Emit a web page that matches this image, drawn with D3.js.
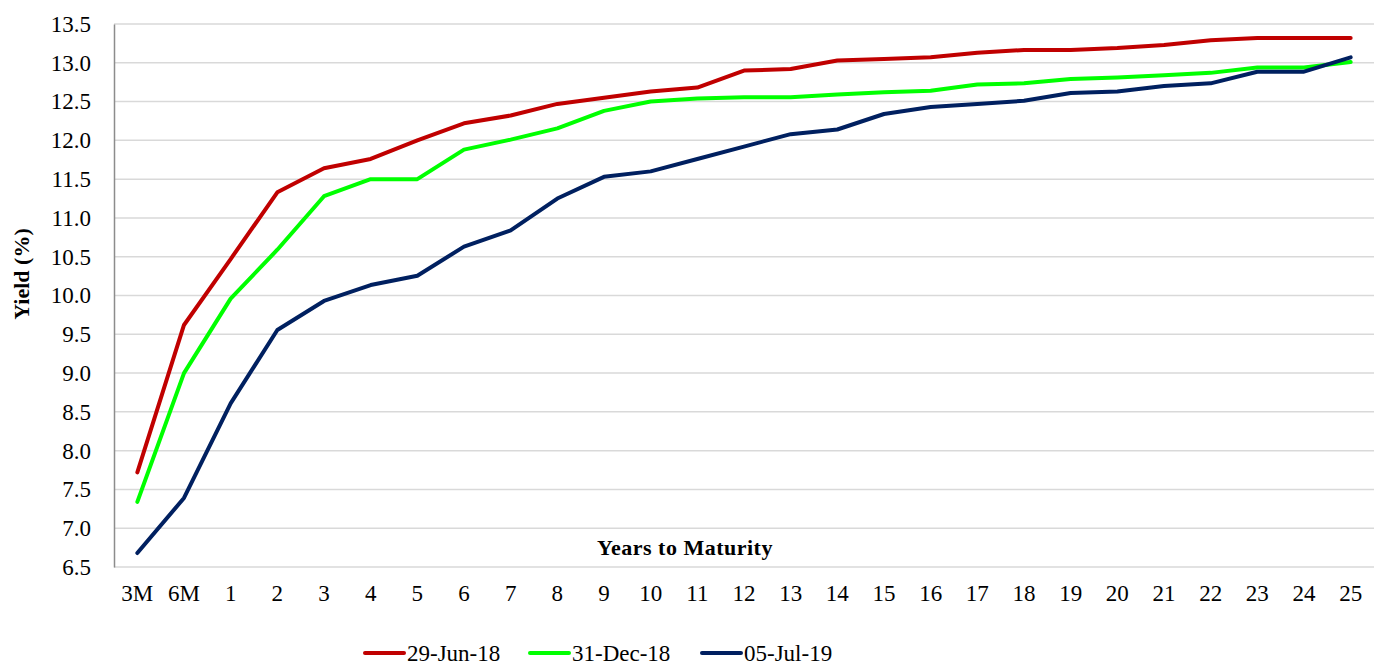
<!DOCTYPE html>
<html><head><meta charset="utf-8">
<script src="https://cdn.jsdelivr.net/npm/d3@7"></script>
<style>body{margin:0;background:#fff}svg{display:block}</style>
</head><body>
<svg id="c" width="1384" height="668"></svg>
<script>
const categories = ["3M","6M","1","2","3","4","5","6","7","8","9","10","11","12","13","14","15","16","17","18","19","20","21","22","23","24","25"];
const jun18 = [7.72,9.62,10.47,11.33,11.64,11.76,12.00,12.22,12.32,12.47,12.55,12.63,12.68,12.90,12.92,13.03,13.05,13.07,13.13,13.165,13.165,13.19,13.23,13.29,13.32,13.32,13.32];
const dec18 = [7.34,9.00,9.96,10.59,11.28,11.50,11.50,11.88,12.01,12.155,12.38,12.50,12.54,12.555,12.555,12.59,12.62,12.64,12.72,12.735,12.79,12.81,12.84,12.87,12.94,12.94,13.01];
const jul19 = [6.68,7.39,8.61,9.555,9.93,10.135,10.255,10.63,10.84,11.25,11.53,11.60,11.76,11.92,12.08,12.14,12.34,12.43,12.47,12.51,12.61,12.63,12.70,12.735,12.885,12.885,13.07];
const seriesNames = ["29-Jun-18","31-Dec-18","05-Jul-19"];
const seriesColors = ["#C00000","#00FF00","#002060"];
const yTicks = [6.5,7.0,7.5,8.0,8.5,9.0,9.5,10.0,10.5,11.0,11.5,12.0,12.5,13.0,13.5];

const svg = d3.select("#c");
const font = "'Liberation Serif','Times New Roman',serif";
const L = 114, R = 1374, T = 24, B = 567;
const x = d3.scaleBand().domain(categories).range([L, R]);
const y = d3.scaleLinear().domain([6.5, 13.5]).range([B, T]);
const cx = c => x(c) + x.bandwidth() / 2;

// gridlines
svg.append("g").selectAll("line").data(yTicks).join("line")
  .attr("x1", L).attr("x2", R).attr("y1", d => y(d)).attr("y2", d => y(d))
  .attr("stroke", "#d9d9d9").attr("stroke-width", 1.5);

// y axis
const ya = svg.append("g").attr("transform", `translate(${L},0)`)
  .attr("font-family", font)
  .call(d3.axisLeft(y).tickValues(yTicks).tickFormat(d3.format(".1f")).tickSize(0).tickPadding(23));
ya.attr("font-family", font);
ya.select(".domain").attr("stroke", "#8c8c8c").attr("stroke-width", 1.5);
ya.selectAll("text").attr("font-family", font).attr("font-size", 23).attr("fill", "#000");

// x axis
const xa = svg.append("g").attr("transform", `translate(0,${B})`)
  .call(d3.axisBottom(x).tickSize(0).tickPadding(18));
xa.attr("font-family", font);
xa.select(".domain").remove();
xa.selectAll("text").attr("font-family", font).attr("font-size", 23).attr("fill", "#000");

// lines
const line = d3.line().x((d, i) => cx(categories[i])).y(d => y(d));
[jun18, dec18, jul19].forEach((s, k) => {
  svg.append("path").datum(s).attr("d", line).attr("fill", "none")
    .attr("stroke", seriesColors[k]).attr("stroke-width", 4)
    .attr("stroke-linejoin", "round").attr("stroke-linecap", "round");
});

// axis titles
svg.append("text").attr("x", 685).attr("y", 555).attr("text-anchor", "middle")
  .attr("font-family", font).attr("font-size", 22).attr("font-weight", "bold")
  .attr("letter-spacing", 0.5)
  .text("Years to Maturity");
svg.append("text").attr("transform", "translate(29,274) rotate(-90)").attr("text-anchor", "middle")
  .attr("font-family", font).attr("font-size", 22).attr("font-weight", "bold")
  .text("Yield (%)");

// legend
const legX = [365, 530, 702];
const lg = svg.append("g");
seriesNames.forEach((n, k) => {
  lg.append("line").attr("x1", legX[k]).attr("x2", legX[k] + 39).attr("y1", 653).attr("y2", 653)
    .attr("stroke", seriesColors[k]).attr("stroke-width", 4).attr("stroke-linecap", "round");
  lg.append("text").attr("x", legX[k] + 42).attr("y", 661)
    .attr("font-family", font).attr("font-size", 23).text(n);
});
</script>
</body></html>
